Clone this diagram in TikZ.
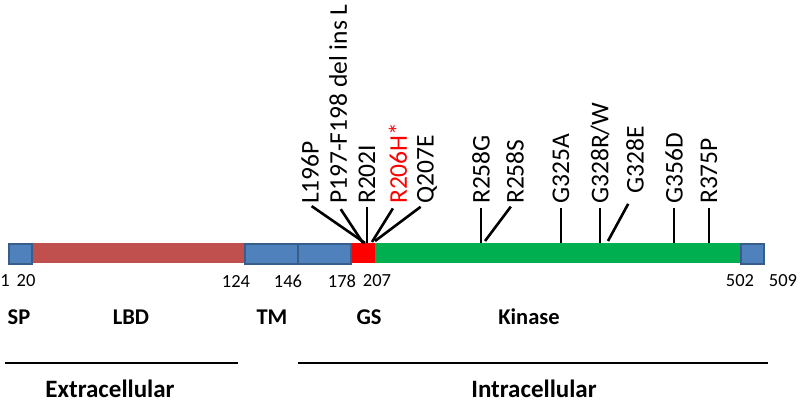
\documentclass[tikz,border=0pt]{standalone}
\usepackage{fontspec}
\setmainfont{Carlito}
\definecolor{boxblue}{HTML}{4F81BD}
\definecolor{boxedge}{HTML}{385D8A}
\definecolor{lbdred}{HTML}{C0504D}
\definecolor{gsred}{HTML}{FF0000}
\definecolor{kgreen}{HTML}{00B050}
\begin{document}
\begin{tikzpicture}[x=1pt,y=-1pt,
  seg/.style={anchor=north west,inner sep=0pt,minimum height=20pt,fill=#1},
  bseg/.style={anchor=north west,inner sep=0pt,minimum height=20pt,fill=boxblue,draw=boxedge,line width=1.5pt},
  num/.style={font=\fontsize{18.5}{22}\selectfont,inner sep=0pt},
  dom/.style={font=\fontsize{22.5}{27}\selectfont\bfseries,inner sep=0pt},
  side/.style={font=\fontsize{25}{30}\selectfont\bfseries,inner sep=0pt},
  mut/.style={font=\fontsize{25.5}{30}\selectfont,rotate=90,anchor=west,inner sep=1pt},
  stick/.style={line width=2.6pt,shorten <=2pt},
  region/.style={line width=2pt}]
\useasboundingbox (0,0) rectangle (800,404);
% bar segments
\node[seg=lbdred,minimum width=214pt] (lbd) at (30,243) {};
\node[seg=gsred,minimum width=25pt] (gs) at (350,243) {};
\node[seg=kgreen,minimum width=365pt] (kin) at (375,243) {};
\node[bseg,minimum width=23pt] (sp) at (8,243) {};
\node[bseg,minimum width=53pt] (tma) at (244,243) {};
\node[bseg,minimum width=53pt] (tmb) at (297,243) {};
\node[bseg,minimum width=23pt] (ct) at (740,243) {};
% residue numbers
\node[num] (n1) at (5,281) {1};
\node[num] (n20) at (26,281) {20};
\node[num] (n124) at (236,281) {124};
\node[num] (n146) at (288,281) {146};
\node[num] (n178) at (342,281) {178};
\node[num] (n207) at (377,281) {207};
\node[num] (n502) at (740,281) {502};
\node[num] (n509) at (783,281) {509};
% domain names
\node[dom] (lsp) at (19,317) {SP};
\node[dom] (llbd) at (131,317) {LBD};
\node[dom] (ltm) at (272,317) {TM};
\node[dom] (lgs) at (369,317) {GS};
\node[dom] (lkin) at (529,317) {Kinase};
% regions
\coordinate (ea) at (5,363);
\coordinate (eb) at (238,363);
\coordinate (ia) at (298,363);
\coordinate (ib) at (768,363);
\draw[region] (ea) -- (eb);
\draw[region] (ia) -- (ib);
\node[side] (lext) at (110,389) {Extracellular};
\node[side] (lint) at (534,389) {Intracellular};
% mutation labels
\node[mut] (m1) at (310,205) {L196P};
\node[mut] (m2) at (338,205) {P197-F198 del ins L};
\node[mut] (m3) at (367,205) {R202I};
\node[mut,text=gsred] (m4) at (398,205) {R206H*};
\node[mut] (m5) at (427,205) {Q207E};
\node[mut] (m6) at (481,205) {R258G};
\node[mut] (m7) at (515,205) {R258S};
\node[mut] (m8) at (561,205) {G325A};
\node[mut] (m9) at (600,205) {G328R/W};
\node[mut] (m10) at (635,195) {G328E};
\node[mut] (m11) at (674,205) {G356D};
\node[mut] (m12) at (709,205) {R375P};
% attachment points on the bar
\coordinate (b1) at (365,243);
\coordinate (b2) at (363,243);
\coordinate (b3) at (367,243);
\coordinate (b4) at (372,242);
\coordinate (b5) at (375,241);
\coordinate (b6) at (481,243);
\coordinate (b7) at (485,241);
\coordinate (b8) at (561,243);
\coordinate (b9) at (600,243);
\coordinate (b10) at (608,241);
\coordinate (b11) at (674,243);
\coordinate (b12) at (709,243);
\draw[stick] (m1.west) -- (b1);
\draw[stick,shorten <=5pt] (m2.west) -- (b2);
\draw[stick] (m3.west) -- (b3);
\draw[stick,shorten <=4pt] ([xshift=-3pt]m4.west) -- (b4);
\draw[stick,shorten <=3pt] ([xshift=-4pt]m5.west) -- (b5);
\draw[stick,shorten <=3pt] (m6.west) -- (b6);
\draw[stick] ([xshift=-3pt]m7.west) -- (b7);
\draw[stick,shorten <=3pt] (m8.west) -- (b8);
\draw[stick,shorten <=3pt] (m9.west) -- (b9);
\draw[stick,shorten <=10pt] ([xshift=-2pt]m10.west) -- (b10);
\draw[stick,shorten <=3pt] (m11.west) -- (b11);
\draw[stick,shorten <=3pt] (m12.west) -- (b12);
\end{tikzpicture}
\end{document}
